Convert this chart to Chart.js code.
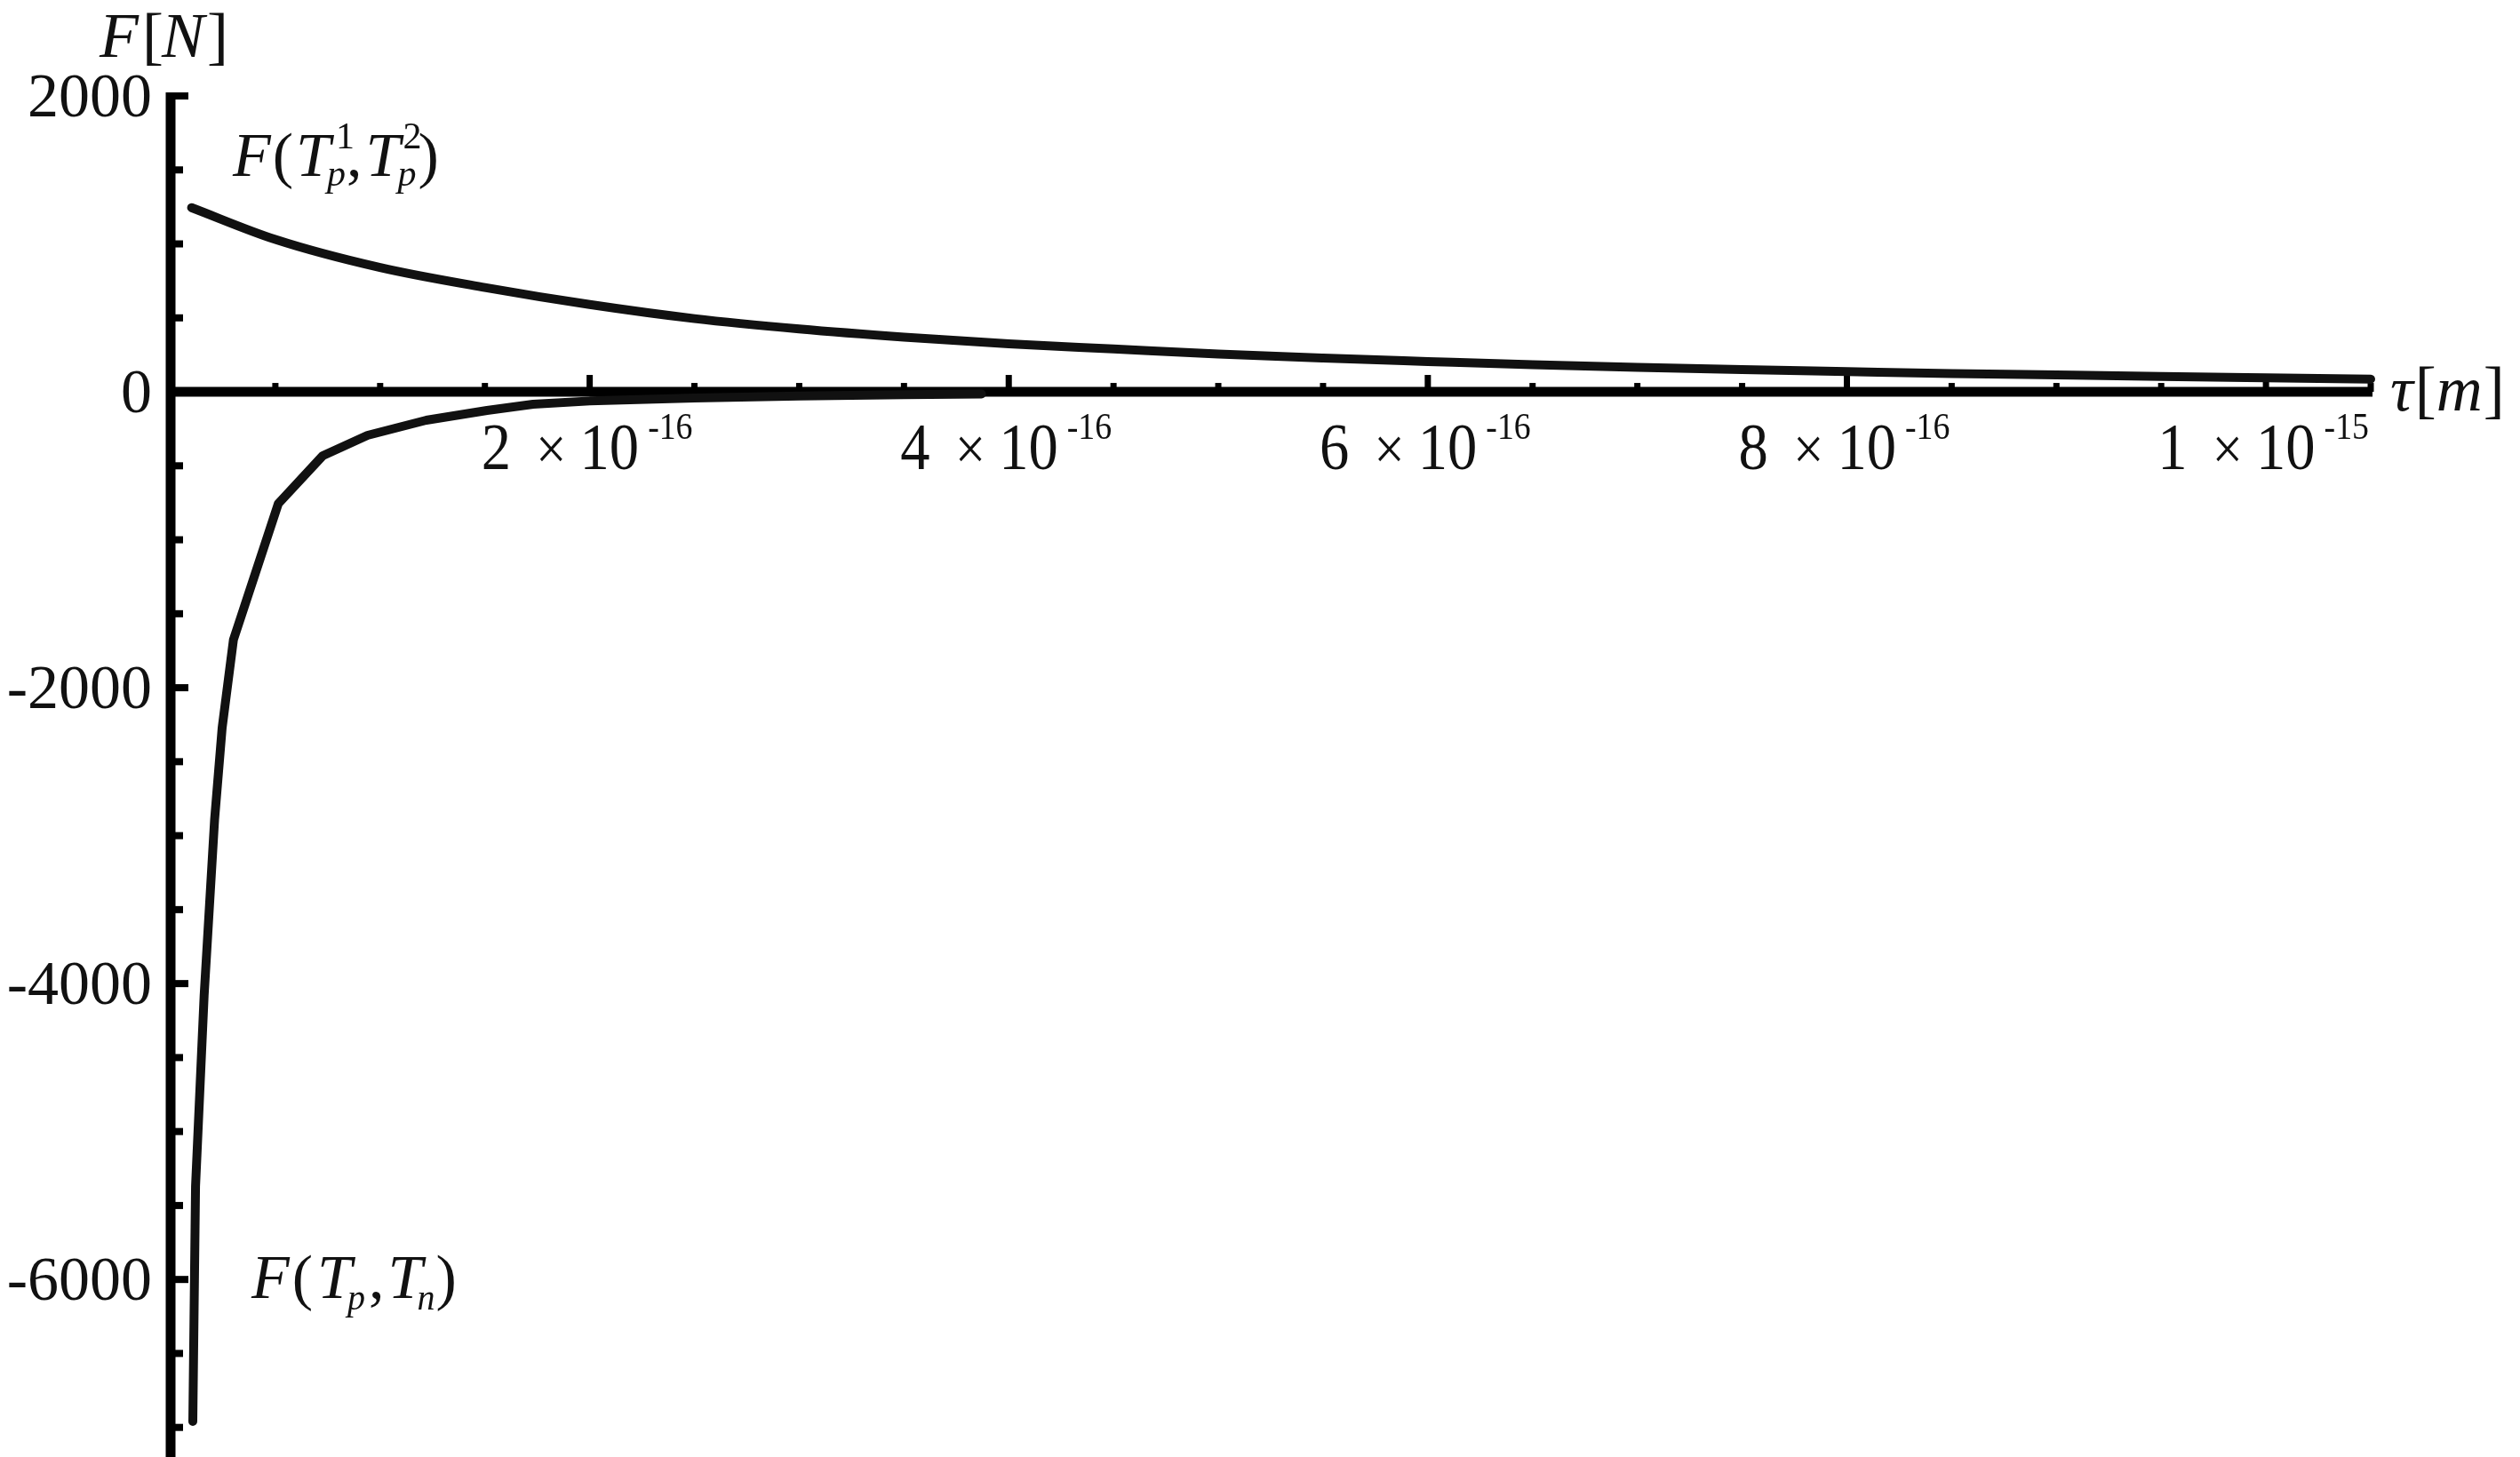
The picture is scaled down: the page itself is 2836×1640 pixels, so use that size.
<!DOCTYPE html>
<html>
<head>
<meta charset="utf-8">
<title>F vs tau</title>
<script src="https://cdn.jsdelivr.net/npm/chart.js@4.4.1/dist/chart.umd.min.js"></script>
<style>
  html, body { margin: 0; padding: 0; background: #fff; }
  canvas { display: block; }
</style>
</head>
<body>
<canvas id="forceChart" width="2836" height="1640"></canvas>
<script>
// tau is in units of 1e-16 m, force in N
const tauTop = [0.1, 0.5, 1.0, 1.5, 2.0, 2.5, 3.0, 3.5, 4.0, 4.5, 5.0, 5.5, 6.0, 6.5, 7.0, 7.5, 8.0, 8.5, 9.0, 9.5, 10.0, 10.5];
const forceTop = [1245, 1030, 840, 705, 590, 495, 425, 370, 325, 290, 255, 228, 205, 183, 165, 150, 137, 124, 114, 104, 95, 86];

const tauBottom = [0.106, 0.119, 0.16, 0.21, 0.246, 0.30, 0.514, 0.726, 0.94, 1.22, 1.51, 1.73, 2.0, 2.5, 3.0, 3.5, 3.87];
const forceBottom = [-6960, -5370, -4080, -2890, -2270, -1675, -756, -432, -294, -192, -126, -84, -62, -42, -28, -20, -15];

// axis ticks
const xMajorTicks = [2, 4, 6, 8, 10];
const xTickMantissa = ['2', '4', '6', '8', '1'];
const xTickExponent = ['-16', '-16', '-16', '-16', '-15'];
const yMajorTicks = [2000, 0, -2000, -4000, -6000];
const yTickLabels = ['2000', '0', '-2000', '-4000', '-6000'];

const SERIF = '"Liberation Serif", "Times New Roman", serif';
const INK = '#111';

// draws a row of text pieces, returns the total width
function drawPieces(ctx, x, baseline, pieces, scaleX, draw) {
  let cur = x;
  pieces.forEach(p => {
    cur += (p.gap || 0);
    if (p.text !== undefined) {
      ctx.font = p.font;
      const w = ctx.measureText(p.text).width * scaleX;
      if (draw) {
        ctx.save();
        ctx.translate(cur, baseline + (p.dy || 0));
        ctx.scale(scaleX, 1);
        ctx.fillText(p.text, 0, 0);
        ctx.restore();
      }
      cur += w;
    } else {
      // stacked super/subscript
      let adv = 0;
      if (p.sup) {
        ctx.font = p.supFont;
        const w = ctx.measureText(p.sup).width;
        if (draw) ctx.fillText(p.sup, cur + p.supDx, baseline + p.supDy);
        adv = p.supDx + w;
      }
      if (p.sub) {
        ctx.font = p.subFont;
        const w = ctx.measureText(p.sub).width;
        if (draw) ctx.fillText(p.sub, cur + p.subDx, baseline + p.subDy);
        adv = p.subDx + w;
      }
      cur += adv;
    }
  });
  return cur - x;
}

const mathAxes = {
  id: 'mathAxes',
  beforeDatasetsDraw(chart) {
    const ctx = chart.ctx;
    const xs = chart.scales.x, ys = chart.scales.y;
    const x0 = xs.getPixelForValue(0);
    const y0 = ys.getPixelForValue(0);
    ctx.save();
    ctx.strokeStyle = '#000';
    ctx.lineCap = 'butt';

    // axis lines
    ctx.lineWidth = 11;
    ctx.beginPath();
    ctx.moveTo(x0, ys.getPixelForValue(2000) - 4);
    ctx.lineTo(x0, chart.height);
    ctx.moveTo(x0, y0);
    ctx.lineTo(xs.getPixelForValue(10.5) + 2, y0);
    ctx.stroke();

    // y ticks, pointing right
    ctx.lineWidth = 8;
    for (let v = 2000; v >= -7000; v -= 500) {
      const y = ys.getPixelForValue(v);
      const len = v % 2000 === 0 ? 20 : 14;
      ctx.beginPath();
      ctx.moveTo(x0, y);
      ctx.lineTo(x0 + len, y);
      ctx.stroke();
    }

    // x ticks, pointing up
    ctx.lineWidth = 7;
    for (let i = 1; i <= 21; i++) {
      const x = xs.getPixelForValue(i * 0.5);
      const len = i % 4 === 0 ? 19 : 10;
      ctx.beginPath();
      ctx.moveTo(x, y0);
      ctx.lineTo(x, y0 - len);
      ctx.stroke();
    }
    ctx.restore();
  },
  afterDraw(chart) {
    const ctx = chart.ctx;
    const xs = chart.scales.x, ys = chart.scales.y;
    const y0 = ys.getPixelForValue(0);
    ctx.save();
    ctx.fillStyle = INK;
    ctx.textBaseline = 'alphabetic';

    // y tick labels
    ctx.font = `70px ${SERIF}`;
    ctx.textAlign = 'right';
    yMajorTicks.forEach((v, i) => {
      ctx.fillText(yTickLabels[i], 171, ys.getPixelForValue(v) + 23);
    });
    ctx.textAlign = 'left';

    // x tick labels: m ×10^e
    xMajorTicks.forEach((t, i) => {
      const pieces = [
        { text: xTickMantissa[i], font: `74px ${SERIF}` },
        { text: '×', font: `68px ${SERIF}`, gap: 28 },
        { text: '10', font: `74px ${SERIF}`, gap: 15 },
        { text: xTickExponent[i], font: `42px ${SERIF}`, gap: 10, dy: -34 }
      ];
      const w = drawPieces(ctx, 0, 0, pieces, 0.9, false);
      const cx = xs.getPixelForValue(t) - 3;
      drawPieces(ctx, cx - w / 2, y0 + 87, pieces, 0.9, true);
    });

    // axis titles
    const it = `italic 66px ${SERIF}`, rm = `66px ${SERIF}`;
    const it72 = `italic 72px ${SERIF}`, rm72 = `72px ${SERIF}`;
    drawPieces(ctx, 112, 64, [
      { text: 'F', font: it72 },
      { text: '[', font: rm72, gap: 4 },
      { text: 'N', font: it72, gap: -2 },
      { text: ']', font: rm72, gap: 3 }
    ], 1, true);
    drawPieces(ctx, 2690, 462, [
      { text: 'τ', font: it72 },
      { text: '[', font: rm72, gap: 2 },
      { text: 'm', font: it72 },
      { text: ']', font: rm72, gap: 1 }
    ], 1, true);

    // curve labels
    const it68 = `italic 70px ${SERIF}`, rm68 = `70px ${SERIF}`;
    drawPieces(ctx, 262, 198, [
      { text: 'F', font: it68 },
      { text: '(', font: rm68, gap: 2 },
      { text: 'T', font: it68, gap: 3 },
      { sup: '1', supFont: `42px ${SERIF}`, supDx: 6, supDy: -31,
        sub: 'p', subFont: `italic 42px ${SERIF}`, subDx: -4, subDy: 11 },
      { text: ',', font: rm68, gap: 1 },
      { text: 'T', font: it68, gap: 4 },
      { sup: '2', supFont: `42px ${SERIF}`, supDx: 3, supDy: -31,
        sub: 'p', subFont: `italic 42px ${SERIF}`, subDx: -3, subDy: 11 },
      { text: ')', font: rm68, gap: 2 }
    ], 1, true);

    drawPieces(ctx, 283, 1461, [
      { text: 'F', font: it68 },
      { text: '(', font: rm68, gap: 3 },
      { text: 'T', font: it68, gap: 5 },
      { sub: 'p', subFont: `italic 40px ${SERIF}`, subDx: -5, subDy: 13 },
      { text: ',', font: rm68, gap: 4 },
      { text: 'T', font: it68, gap: 4 },
      { sub: 'n', subFont: `italic 40px ${SERIF}`, subDx: -6, subDy: 13 },
      { text: ')', font: rm68, gap: 1 }
    ], 1, true);

    ctx.restore();
  }
};

const lineStyle = {
  borderColor: INK,
  borderWidth: 10,
  pointRadius: 0,
  borderCapStyle: 'round',
  borderJoinStyle: 'round',
  fill: false,
  clip: false
};

new Chart(document.getElementById('forceChart'), {
  type: 'line',
  data: {
    datasets: [
      Object.assign({
        label: 'F(Tp1, Tp2)',
        data: tauTop.map((t, i) => ({ x: t, y: forceTop[i] })),
        cubicInterpolationMode: 'monotone'
      }, lineStyle),
      Object.assign({
        label: 'F(Tp, Tn)',
        data: tauBottom.map((t, i) => ({ x: t, y: forceBottom[i] })),
        tension: 0
      }, lineStyle)
    ]
  },
  options: {
    responsive: false,
    animation: false,
    devicePixelRatio: 1,
    layout: { padding: { left: 192, right: 168, top: 108, bottom: 0 } },
    scales: {
      x: { type: 'linear', min: 0, max: 10.5, display: false },
      y: { type: 'linear', min: -7200, max: 2000, display: false }
    },
    plugins: {
      legend: { display: false },
      tooltip: { enabled: false }
    }
  },
  plugins: [mathAxes]
});
</script>
</body>
</html>
